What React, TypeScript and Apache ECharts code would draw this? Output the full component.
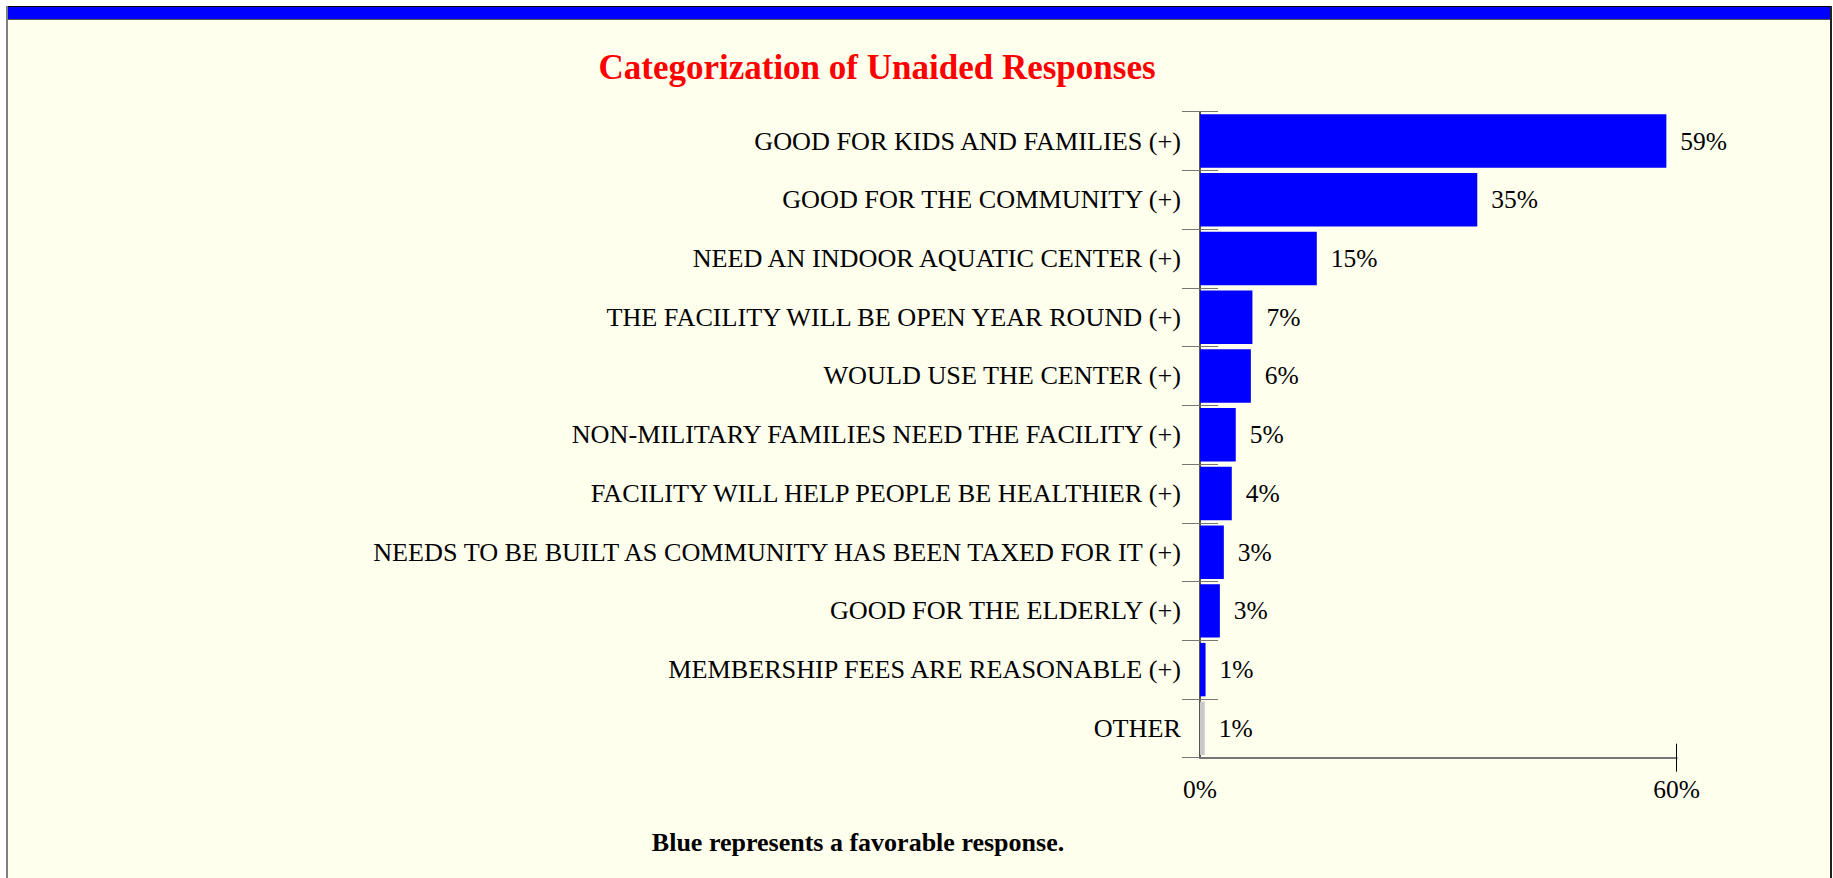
import React, { useEffect, useRef } from "react";
import * as echarts from "echarts";

const categories = [
  "GOOD FOR KIDS AND FAMILIES (+)",
  "GOOD FOR THE COMMUNITY (+)",
  "NEED AN INDOOR AQUATIC CENTER (+)",
  "THE FACILITY WILL BE OPEN YEAR ROUND (+)",
  "WOULD USE THE CENTER (+)",
  "NON-MILITARY FAMILIES NEED THE FACILITY (+)",
  "FACILITY WILL HELP PEOPLE BE HEALTHIER (+)",
  "NEEDS TO BE BUILT AS COMMUNITY HAS BEEN TAXED FOR IT (+)",
  "GOOD FOR THE ELDERLY (+)",
  "MEMBERSHIP FEES ARE REASONABLE (+)",
  "OTHER",
];
const values = [58.7, 34.9, 14.7, 6.6, 6.4, 4.5, 4.0, 3.0, 2.5, 0.7, 0.6];
const valueLabels = ["59%", "35%", "15%", "7%", "6%", "5%", "4%", "3%", "3%", "1%", "1%"];
const favorable = [true, true, true, true, true, true, true, true, true, true, false];
const xMax = 60;
const xTickMarks = [60];

const titleText = "Categorization of Unaided Responses";
const noteText = "Blue represents a favorable response.";

const SERIF = '"Liberation Serif", "Times New Roman", Times, serif';

export default function App() {
  const ref = useRef<HTMLDivElement>(null);
  useEffect(() => {
    const chart = echarts.init(ref.current!, null, { renderer: "svg" });
    chart.setOption({
      animation: false,
      backgroundColor: "#FFFFEE",
      textStyle: { fontFamily: SERIF },
      title: [
        {
          text: titleText,
          left: 877,
          top: 50,
          textAlign: "center",
          padding: 0,
          textStyle: { color: "#FF0000", fontSize: 35, fontWeight: "bold", fontFamily: SERIF },
        },
        {
          text: noteText,
          left: 858,
          top: 829,
          textAlign: "center",
          padding: 0,
          textStyle: { color: "#000", fontSize: 26, fontWeight: "bold", fontFamily: SERIF },
        },
      ],
      grid: {
        left: 1200,
        right: 156.3,
        top: 111.7,
        bottom: 120.3,
        containLabel: false,
        outerBoundsMode: "none",
      },
      xAxis: [
        {
          type: "value",
          min: 0,
          max: xMax,
          interval: xMax,
          position: "bottom",
          axisLine: { show: true, lineStyle: { color: "#777", width: 2 } },
          axisTick: { show: true, inside: false, length: 14, customValues: xTickMarks, lineStyle: { color: "#000", width: 1 } },
          axisLabel: { formatter: "{value}%", fontSize: 25.5, color: "#000", margin: 19, fontFamily: SERIF },
          splitLine: { show: false },
        },
        {
          type: "value",
          min: 0,
          max: xMax,
          interval: xMax,
          position: "bottom",
          axisLine: { show: false },
          axisTick: { show: true, inside: true, length: 14, customValues: xTickMarks, lineStyle: { color: "#000", width: 1 } },
          axisLabel: { show: false },
          splitLine: { show: false },
        },
      ],
      yAxis: [
        {
          type: "category",
          data: categories,
          inverse: true,
          position: "left",
          axisLine: { show: true, lineStyle: { color: "#555", width: 2 } },
          axisTick: { show: true, inside: false, length: 18, lineStyle: { color: "#777", width: 1 } },
          axisLabel: { fontSize: 26.2, color: "#000", margin: 19, fontFamily: SERIF },
        },
        {
          type: "category",
          data: categories,
          inverse: true,
          position: "left",
          axisLine: { show: false },
          axisTick: { show: true, inside: true, length: 18, lineStyle: { color: "#777", width: 1 } },
          axisLabel: { show: false },
        },
      ],
      series: [
        {
          type: "bar",
          xAxisIndex: 0,
          yAxisIndex: 0,
          barCategoryGap: "9%",
          data: values.map((v, i) => ({
            value: v,
            itemStyle: { color: favorable[i] ? "#0000FF" : "#C8C8C8" },
          })),
          label: {
            show: true,
            position: "right",
            distance: 14,
            formatter: (p: any) => valueLabels[p.dataIndex],
            fontSize: 25.5,
            color: "#000",
            fontFamily: SERIF,
          },
        },
      ],
      graphic: [
        { type: "rect", silent: true, shape: { x: 0, y: 0, width: 1833, height: 6 }, style: { fill: "#FFFFFF" } },
        { type: "rect", silent: true, shape: { x: 0, y: 0, width: 6, height: 878 }, style: { fill: "#FFFFFF" } },
        { type: "rect", silent: true, shape: { x: 1832, y: 0, width: 1, height: 878 }, style: { fill: "#FFFFFF" } },
        { type: "rect", silent: true, shape: { x: 6, y: 6, width: 1826, height: 14 }, style: { fill: "#0000FF" } },
        { type: "line", silent: true, shape: { x1: 6, y1: 6.5, x2: 1832, y2: 6.5 }, style: { stroke: "#000", lineWidth: 1 } },
        { type: "line", silent: true, shape: { x1: 6, y1: 19.5, x2: 1832, y2: 19.5 }, style: { stroke: "#555", lineWidth: 1 } },
        { type: "rect", silent: true, shape: { x: 6, y: 6, width: 2, height: 872 }, style: { fill: "#808080" } },
        { type: "rect", silent: true, shape: { x: 1830, y: 6, width: 2, height: 872 }, style: { fill: "#222222" } },
      ],
    });
    return () => chart.dispose();
  }, []);
  return (
    <div
      ref={ref}
      style={{ position: "fixed", left: 0, top: 0, width: 1833, height: 878 }}
    />
  );
}
